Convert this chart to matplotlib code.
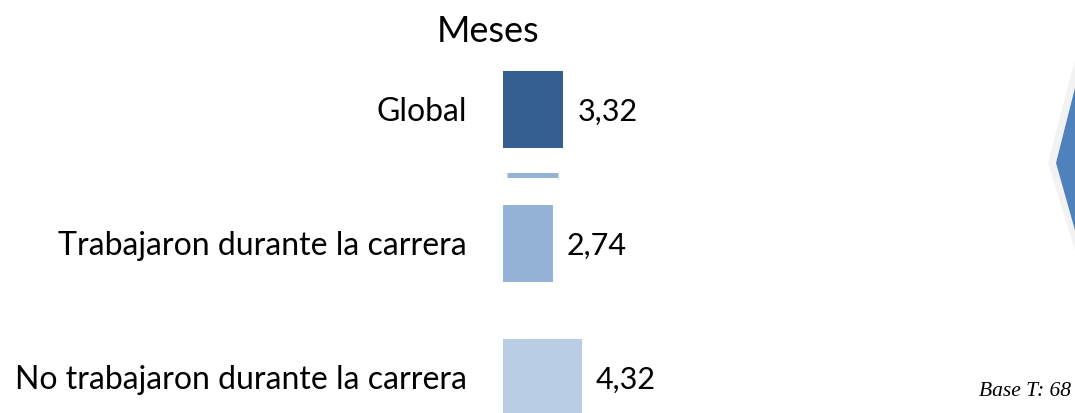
# ======================================
# Meses - horizontal bars
# ======================================

import matplotlib
matplotlib.use("Agg")
import matplotlib.pyplot as plt
from matplotlib.patches import Polygon

# ======================================
# DATA
# ======================================

categories = [
    "Global",
    "Trabajaron durante la carrera",
    "No trabajaron durante la carrera"
]

values = [
    3.32,
    2.74,
    4.32
]

value_labels = [
    "3,32",
    "2,74",
    "4,32"
]

colors = [
    "#355f91",
    "#95b3d7",
    "#b9cde5"
]

# ======================================
# FIGURE
# ======================================

W, H = 1075, 413
fig = plt.figure(figsize=(W / 100, H / 100), dpi=100)

# zero of the bars at x=503 px, ~18.2 px per unit
x0 = 503
ppu = 18.2
ax_w = 300
ax = fig.add_axes([x0 / W, 0, ax_w / W, 1])
ax.set_xlim(0, ax_w / ppu)

# bar centres at 109.5 px, spacing 134 px
c0, step = 109.5, 134
ax.set_ylim((H - c0) / step, -c0 / step)
ax.axis("off")

pos = list(range(len(categories)))
ax.barh(pos, values, height=0.58, color=colors)

for p, v, lab, cat in zip(pos, values, value_labels, categories):
    ax.annotate(lab, (v, p), xytext=(10, -1.5), textcoords="offset points",
                ha="left", va="center", fontsize=22, family="Lato")
    ax.annotate(cat, (0, p), xytext=(-26, -1.5), textcoords="offset points",
                ha="right", va="center", fontsize=23, family="Lato",
                annotation_clip=False)

# thin separator under "Global"
ax.hlines(0.4925, 0.22, 3.02, color="#95b3d7", linewidth=3.6)

# title
fig.text(488 / W, 1 - 31 / H, "Meses", ha="center", va="center",
         fontsize=26, family="Lato")

# base note
fig.text(1071 / W, 1 - 391 / H, "Base T: 68", ha="right", va="center",
         fontsize=15.5, family="Liberation Serif", style="italic")

# ======================================
# PARTIAL HEXAGON SHAPE AT RIGHT EDGE
# ======================================

def to_fig(pts):
    return [(x / W, 1 - y / H) for x, y in pts]

outer = to_fig([(1080, 40), (1048, 163), (1080, 266)])
inner = to_fig([(1080, 68), (1056, 163), (1080, 248)])
fig.patches.append(Polygon(outer, closed=True, transform=fig.transFigure,
                           facecolor="#f2f2f2", edgecolor="none"))
fig.patches.append(Polygon(inner, closed=True, transform=fig.transFigure,
                           facecolor="#4f81bd", edgecolor="none"))

plt.savefig("out.png", dpi=100)
